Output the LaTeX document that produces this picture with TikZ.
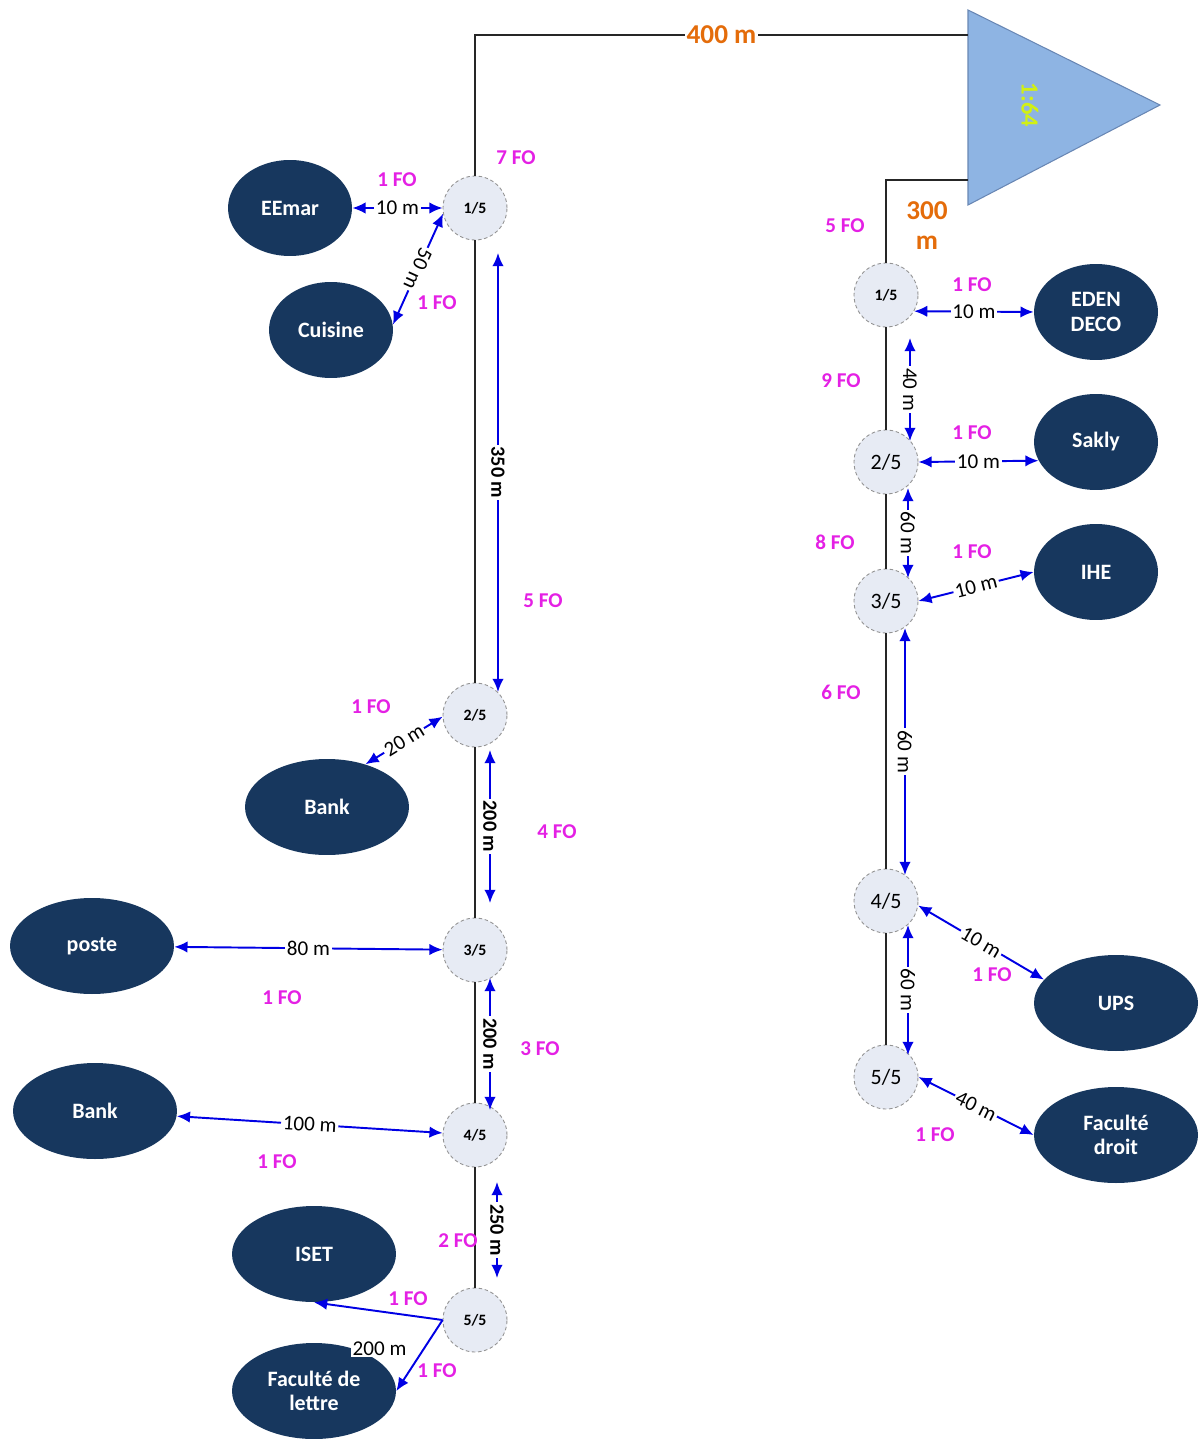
\documentclass[tikz,border=0pt]{standalone}
\usepackage{fontspec}
\setmainfont{Carlito}
\usetikzlibrary{arrows.meta, shapes.geometric, positioning}
\definecolor{navy}{RGB}{23,55,94}
\definecolor{fomag}{RGB}{228,32,228}
\definecolor{lenorange}{RGB}{228,108,10}
\definecolor{splitfill}{RGB}{231,235,244}
\definecolor{trifill}{RGB}{142,180,227}
\definecolor{tridraw}{RGB}{105,135,180}
\definecolor{ratiocol}{RGB}{210,240,20}
\definecolor{linkblue}{RGB}{0,0,228}

\begin{document}
\begin{tikzpicture}[x=0.02cm, y=-0.02cm,
          building/.style={
              ellipse,
              fill=navy,
              text=white,
              inner sep=0pt,
              minimum width=2.48cm,
              minimum height=1.92cm,
              font=\fontsize{12.5}{14}\selectfont\bfseries,
              align=center
            },
          widebldg/.style={minimum width=3.28cm},
          splitter/.style={
              circle,
              draw=gray!85,
              dash pattern=on 2pt off 1.5pt,
              fill=splitfill,
              line width=0.5pt,
              inner sep=0pt,
              minimum size=1.28cm,
              font=\fontsize{9}{10}\selectfont\bfseries
            },
          bigtxt/.style={font=\fontsize{12.5}{14}\selectfont},
          trunk/.style={draw=black!85, line width=0.9pt},
          arr/.style={{Latex[length=7.5pt,width=6.5pt]}-{Latex[length=7.5pt,width=6.5pt]}, linkblue, line width=1.1pt},
          oneway/.style={-{Latex[length=7.5pt,width=6.5pt]}, linkblue, line width=1.1pt},
          lenlbl/.style={fill=white, inner sep=1pt, text=black, font=\fontsize{12}{13}\selectfont},
          lenbold/.style={lenlbl, font=\fontsize{11.5}{13}\selectfont\bfseries},
          folbl/.style={text=fomag, font=\fontsize{12}{13}\selectfont\bfseries},
          totallbl/.style={text=lenorange, font=\fontsize{15.5}{17}\selectfont\bfseries, align=center}
        ]
        \useasboundingbox (0,0) rectangle (1201,1439);

        % optical splitter 1:64
        \draw[fill=trifill, draw=tridraw, line width=0.6pt] (968,10) -- (1160,105) -- (968,205) -- cycle;
        \node[text=ratiocol, rotate=-90, font=\fontsize{14}{15}\selectfont\bfseries] (ratio) at (1030,105) {1:64};
        \coordinate (out_a) at (968,35);
        \coordinate (out_b) at (968,180);

        % splitters 1:5
        \node[splitter] (l1) at (475,208) {1/5};
        \node[splitter] (l2) at (475,715) {2/5};
        \node[splitter] (l3) at (475,950) {3/5};
        \node[splitter] (l4) at (475,1135) {4/5};
        \node[splitter] (l5) at (475,1320) {5/5};

        \node[splitter] (r1) at (886,295) {1/5};
        \node[splitter, bigtxt] (r2) at (886,462) {2/5};
        \node[splitter, bigtxt] (r3) at (886,601) {3/5};
        \node[splitter, bigtxt] (r4) at (886,901) {4/5};
        \node[splitter, bigtxt] (r5) at (886,1077) {5/5};

        % trunk cables
        \draw[trunk] (l1.north) |- node[pos=0.75, totallbl, fill=white, inner sep=1pt] (t400) {400 m} (out_a);
        \draw[trunk] (out_b) -| (r1.north);
        \node[totallbl] (t300) at (927,226) {300\\m};
        \foreach \a/\b in {l1/l2, l2/l3, l3/l4, l4/l5, r1/r2, r2/r3, r3/r4, r4/r5}
          \draw[trunk] (\a) -- (\b);

        % buildings
        \node[building] (eemar) at (290,208) {EEmar};
        \node[building] (cuisine) at (331,330) {Cuisine};
        \node[building, widebldg] (bank1) at (327,807) {Bank};
        \node[building, widebldg] (poste) at (92,946) {poste};
        \node[building, widebldg] (bank2) at (95,1111) {Bank};
        \node[building, widebldg] (iset) at (314,1254) {ISET};
        \node[building, widebldg] (lettre) at (314,1391) {Faculté de\\lettre};
        \node[building] (eden) at (1096,312) {EDEN\\DECO};
        \node[building] (sakly) at (1096,442) {Sakly};
        \node[building] (ihe) at (1096,572) {IHE};
        \node[building, widebldg] (ups) at (1116,1003) {UPS};
        \node[building, widebldg] (droit) at (1116,1135) {Faculté\\droit};

        % lengths, left branch
        \coordinate (d350_a) at (498,253);
        \coordinate (d350_b) at (498,692);
        \coordinate (d200_a) at (490,750);
        \coordinate (d200_b) at (490,903);
        \coordinate (d200_c) at (490,978);
        \coordinate (d200_d) at (490,1110);
        \coordinate (d250_a) at (497,1182);
        \coordinate (d250_b) at (497,1278);

        \draw[arr] (eemar) -- node[lenlbl] {10 m} (l1);
        \draw[arr] (l1.190) -- node[lenlbl, sloped, allow upside down] {50 m} (cuisine.5);
        \draw[arr] (d350_a) -- node[lenbold, sloped, allow upside down] {350 m} (d350_b);
        \draw[arr] (bank1.48) -- node[lenlbl, sloped] {20 m} (l2.183);
        \draw[arr] (d200_a) -- node[lenbold, sloped, allow upside down] {200 m} (d200_b);
        \draw[arr] (poste) -- node[lenlbl] {80 m} (l3);
        \draw[arr] (d200_c) -- node[lenbold, sloped, allow upside down] {200 m} (d200_d);
        \draw[arr] (bank2) -- node[lenlbl, sloped] {100 m} (l4);
        \draw[arr] (d250_a) -- node[lenbold, sloped, allow upside down] {250 m} (d250_b);
        \draw[oneway] (l5.west) -- (iset.south);
        \draw[oneway] (l5.west) -- node[lenlbl, pos=0.4, left=3mm] {200 m} (lettre.east);

        % lengths, right branch
        \coordinate (d40_a) at (910,338);
        \coordinate (d40_b) at (910,441);
        \coordinate (d60_a) at (908,488);
        \coordinate (d60_b) at (908,578);
        \coordinate (d60_c) at (905,628);
        \coordinate (d60_d) at (905,875);
        \coordinate (d60_e) at (908,925);
        \coordinate (d60_f) at (908,1055);

        \draw[arr] (r1.-30) -- node[lenlbl] {10 m} (eden.west);
        \draw[arr] (d40_a) -- node[lenlbl, sloped, allow upside down] {40 m} (d40_b);
        \draw[arr] (r2.east) -- node[lenlbl] {10 m} (sakly.198);
        \draw[arr] (d60_a) -- node[lenlbl, sloped, allow upside down] {60 m} (d60_b);
        \draw[arr] (r3.east) -- node[lenlbl, sloped] {10 m} (ihe.west);
        \draw[arr] (d60_c) -- node[lenlbl, sloped, allow upside down] {60 m} (d60_d);
        \draw[arr] (r4.-8) -- node[lenlbl, sloped] {10 m} (ups.162);
        \draw[arr] (d60_e) -- node[lenlbl, sloped, allow upside down] {60 m} (d60_f);
        \draw[arr] (r5.east) -- node[lenlbl, sloped] {40 m} (droit.west);

        % fibre counts
        \node[folbl] (fo_l1) at (516,158) {7 FO};
        \node[folbl] (fo_eemar) at (397,180) {1 FO};
        \node[folbl] (fo_cuisine) at (437,303) {1 FO};
        \node[folbl] (fo_l12) at (543,601) {5 FO};
        \node[folbl] (fo_bank1) at (371,707) {1 FO};
        \node[folbl] (fo_l23) at (557,832) {4 FO};
        \node[folbl] (fo_poste) at (282,998) {1 FO};
        \node[folbl] (fo_l34) at (540,1049) {3 FO};
        \node[folbl] (fo_bank2) at (277,1162) {1 FO};
        \node[folbl] (fo_l45) at (458,1241) {2 FO};
        \node[folbl] (fo_iset) at (408,1299) {1 FO};
        \node[folbl] (fo_lettre) at (437,1371) {1 FO};

        \node[folbl] (fo_r1) at (845,226) {5 FO};
        \node[folbl] (fo_eden) at (972,285) {1 FO};
        \node[folbl] (fo_r12) at (841,381) {9 FO};
        \node[folbl] (fo_sakly) at (972,433) {1 FO};
        \node[folbl] (fo_r23) at (835,542) {8 FO};
        \node[folbl] (fo_ihe) at (972,552) {1 FO};
        \node[folbl] (fo_r34) at (841,692) {6 FO};
        \node[folbl] (fo_ups) at (992,975) {1 FO};
        \node[folbl] (fo_droit) at (935,1135) {1 FO};
      \end{tikzpicture}
\end{document}
